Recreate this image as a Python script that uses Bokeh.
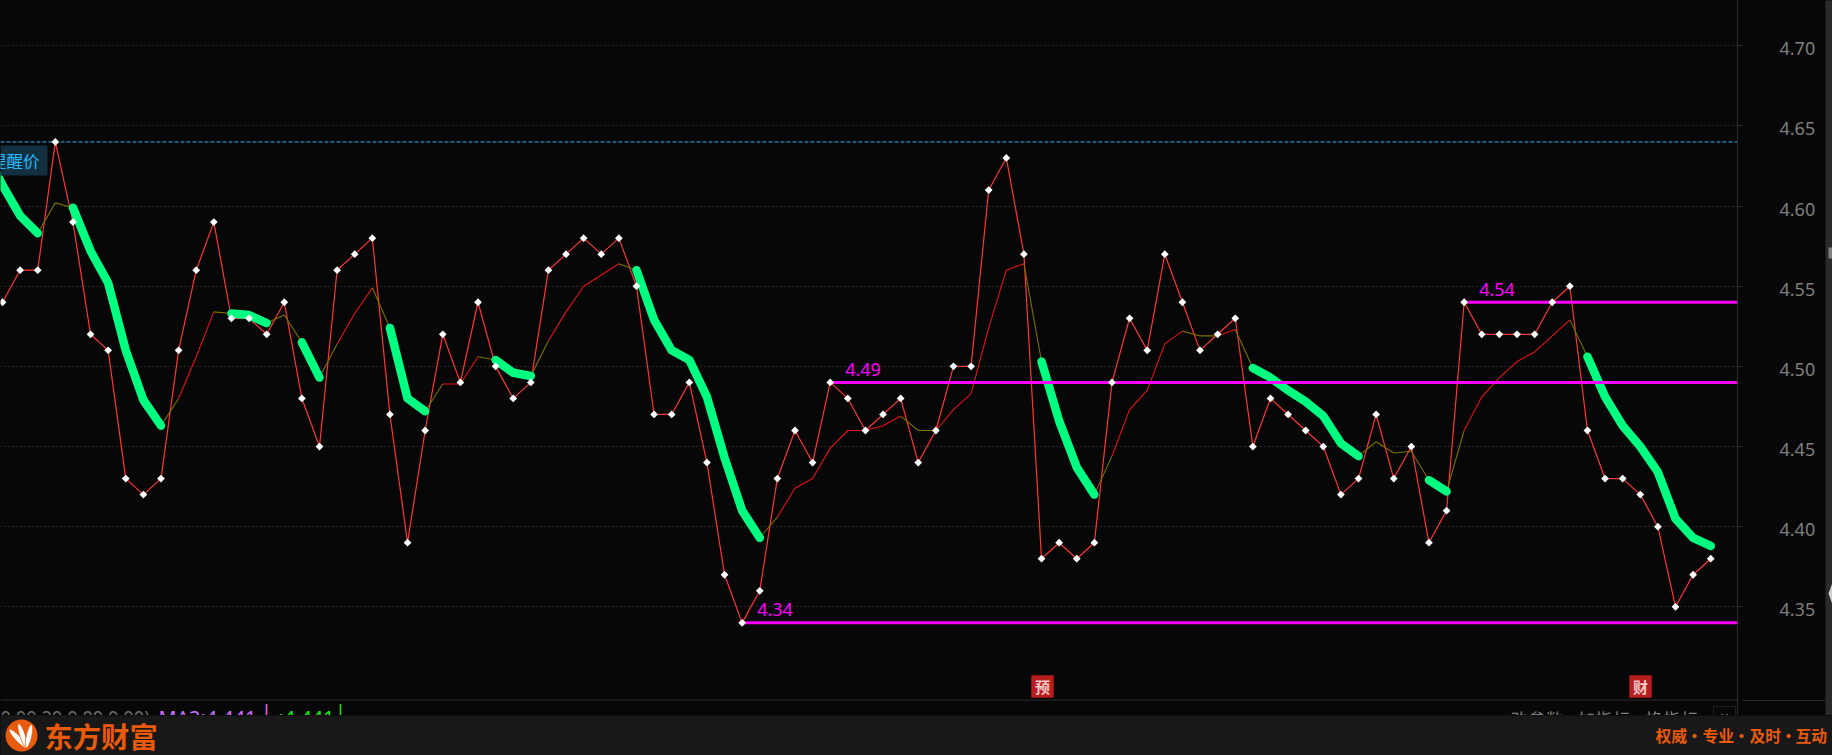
from bokeh.plotting import figure
from bokeh.layouts import column, row
from bokeh.embed import file_html
from bokeh.resources import INLINE
from bokeh.core.properties import value
from bokeh.models import FixedTicker, Label, BoxAnnotation, Span, NumeralTickFormatter, Range1d, LinearAxis
import math

close = [4.54,4.56,4.56,4.64,4.59,4.52,4.51,4.43,4.42,4.43,4.51,4.56,4.59,4.53,4.53,4.52,4.54,4.48,4.45,4.56,
         4.57,4.58,4.47,4.39,4.46,4.52,4.49,4.54,4.50,4.48,4.49,4.56,4.57,4.58,4.57,4.58,4.55,4.47,4.47,4.49,
         4.44,4.37,4.34,4.36,4.43,4.46,4.44,4.49,4.48,4.46,4.47,4.48,4.44,4.46,4.50,4.50,4.61,4.63,4.57,4.38,
         4.39,4.38,4.39,4.49,4.53,4.51,4.57,4.54,4.51,4.52,4.53,4.45,4.48,4.47,4.46,4.45,4.42,4.43,4.47,4.43,
         4.45,4.39,4.41,4.54,4.52,4.52,4.52,4.52,4.54,4.55,4.46,4.43,4.43,4.42,4.40,4.35,4.37,4.38]

# moving average; first entry belongs to the bar just left of the visible window
ma_x = list(range(-1, 98))
ma = [4.635,4.613,4.594,4.583,4.602,4.599,4.572,4.552,4.510,4.479,4.463,4.480,4.506,4.534,4.533,4.532,4.527,4.532,4.515,4.493,
      4.514,4.533,4.549,4.524,4.480,4.472,4.489,4.489,4.506,4.504,4.496,4.494,4.516,4.534,4.550,4.557,4.564,4.560,4.529,4.510,
      4.504,4.481,4.443,4.410,4.393,4.406,4.424,4.430,4.449,4.460,4.460,4.463,4.469,4.460,4.460,4.473,4.483,4.524,4.560,4.564,
      4.503,4.466,4.437,4.420,4.444,4.473,4.485,4.514,4.522,4.519,4.519,4.523,4.499,4.493,4.485,4.478,4.469,4.452,4.444,4.453,
      4.446,4.447,4.429,4.422,4.460,4.481,4.493,4.503,4.509,4.519,4.529,4.506,4.481,4.463,4.450,4.434,4.405,4.393,4.388]

# runs of bars (first, last) per line state
fall_runs = [(-1,2),(4,9),(13,15),(17,18),(22,24),(28,30),(36,43),(59,62),(71,77),(81,82),(90,97)]
flat_runs = [(2,4),(9,10),(12,13),(15,17),(18,19),(21,22),(24,25),(27,28),(30,31),(35,36),(43,44),
             (51,53),(58,59),(62,63),(67,69),(70,71),(77,81),(82,83),(89,90)]
rise_runs = [(10,12),(19,21),(25,27),(31,35),(44,51),(53,58),(63,67),(69,70),(83,89)]

levels = [4.34, 4.49, 4.54]
level_start = [42, 47, 83]
level_text = ["4.34", "4.49", "4.54"]
alert_price = 4.64
y_ticks = [4.35,4.40,4.45,4.50,4.55,4.60,4.65,4.70]
separator = 4.29183

BG = "#070707"
X0, X1 = -0.1136, 98.52
Y0, Y1 = 4.2822, 4.72824   # frame covers y = 0..715 px
LABEL_SHIFT = 3 / 1604      # tick labels sit 3 px under their ticks

p = figure(width=1825, height=715, output_backend="svg", toolbar_location=None,
           x_range=Range1d(X0, X1), y_range=Range1d(Y0, Y1),
           x_axis_location=None, y_axis_location="right",
           background_fill_color=BG, border_fill_color=BG, outline_line_color=None,
           min_border_left=0, min_border_top=0, min_border_bottom=0, min_border_right=88)

ax = p.yaxis[0]
ax.ticker = FixedTicker(ticks=[], minor_ticks=y_ticks)
ax.axis_line_color = "#2e2e2e"
ax.major_tick_line_color = None
ax.major_tick_out = 5
ax.major_tick_in = 0
ax.minor_tick_line_color = "#2e2e2e"
ax.minor_tick_out = 5
ax.minor_tick_in = 0

sep_ax = LinearAxis(ticker=FixedTicker(ticks=[], minor_ticks=[separator]),
                    axis_line_color=None, major_tick_line_color=None,
                    major_tick_out=0, major_tick_in=0,
                    minor_tick_line_color="#2c2c2c", minor_tick_out=83, minor_tick_in=0)
p.add_layout(sep_ax, "right")

p.extra_y_ranges = {"labels": Range1d(Y0 + LABEL_SHIFT, Y1 + LABEL_SHIFT)}
lab_ax = LinearAxis(y_range_name="labels", ticker=FixedTicker(ticks=y_ticks),
                    formatter=NumeralTickFormatter(format="0.00"),
                    axis_line_color=None, major_tick_line_color=None, minor_tick_line_color=None,
                    major_tick_out=0, major_tick_in=0,
                    major_label_standoff=-46, major_label_text_color="#7f7f7f",
                    major_label_text_font="Noto Sans", major_label_text_font_size="18px")
p.add_layout(lab_ax, "right")

p.xgrid.visible = False
g = p.ygrid[0]
g.ticker = FixedTicker(ticks=y_ticks)
g.grid_line_color = "#454545"
g.grid_line_dash = "1 3"
g.grid_line_width = 1

xs = list(range(len(close)))
p.line(xs, close, line_color="#ff3535", line_width=1.2)

for a, b in rise_runs:
    p.line(ma_x[a+1:b+2], ma[a+1:b+2], line_color="#e81010", line_width=1.1)
for a, b in flat_runs:
    p.line(ma_x[a+1:b+2], ma[a+1:b+2], line_color="#7c7000", line_width=1.1)
for a, b in fall_runs:
    p.line(ma_x[a+1:b+2], ma[a+1:b+2], line_color="#00ff80", line_width=8.5,
           line_cap="round", line_join="round")

p.line([X0, X1], [alert_price, alert_price], line_color="#35b8ee", line_width=1, line_dash="4 2")

p.segment(x0=level_start, y0=levels, x1=[X1]*3, y1=levels, line_color="#ff00ff", line_width=3)
p.text(x=level_start, y=levels, text=level_text, text_color="#ff00ff",
       text_font=value("Noto Sans"), text_font_size="18px", text_align="left",
       text_baseline="alphabetic", x_offset=15, y_offset=-13)

p.scatter(xs, close, marker="square", angle=math.pi/4, size=5.5, fill_color="white", line_color=None)

# separator above the indicator strip
p.add_layout(Span(location=separator, dimension="width", line_color="#2c2c2c", line_width=1))


def lab(x, y, text, color, size, align="left", **kw):
    p.add_layout(Label(x=x, y=y, x_units="canvas", y_units="canvas", text=text, text_color=color,
                       text_font=kw.pop("font", "Noto Sans"), text_font_size=f"{size}px",
                       text_align=align, text_baseline=kw.pop("baseline", "middle"), **kw))


def box(l, r, t, b, fill, line=None):
    p.add_layout(BoxAnnotation(left=l, right=r, top=t, bottom=b,
                               left_units="canvas", right_units="canvas", top_units="canvas", bottom_units="canvas",
                               fill_color=fill, fill_alpha=1, line_color=line))


CJK = "Noto Sans CJK SC"
box(0, 47, 145, 175, "#12303f")
lab(39, 160, "提醒价", "#2ab8f8", 16.5, align="right", font=CJK)

for cx, t in [(1042, "预"), (1640, "财")]:
    box(cx-11, cx+11, 675, 697, "#b81e1e", "#e01515")
    lab(cx, 686, t, "#f0c8c8", 15, align="center", font=CJK, text_font_style="bold")

# strip cut off by footer
base = 717
lab(0, base - 1, "0.00,20,0.00,0.00)", "#6e6e6e", 18.2)
lab(158, base, "MA3:4.441", "#d070ff", 19.8)
lab(261, 710, "|", "#ff66ff", 18)
lab(278, base, ":4.441", "#10f010", 19.8)
lab(335, 710, "|", "#10f010", 18)
lab(1510, base + 1, "改参数", "#808080", 17.6, font=CJK)
lab(1577, base + 1, "加指标", "#808080", 17.6, font=CJK)
lab(1645, base + 1, "换指标", "#808080", 17.6, font=CJK)
box(1713, 1735, 706, 730, BG, "#5a5a5a")
lab(1724, 716, "∨", "#808080", 14, align="center", font="DejaVu Sans")

# scrollbar column
sb = figure(width=7, height=715, output_backend="svg", toolbar_location=None,
            x_range=Range1d(0, 7), y_range=Range1d(715, 0),
            x_axis_location=None, y_axis_location=None,
            background_fill_color="#2a2a2a", border_fill_color="#2a2a2a", outline_line_color=None, min_border=0)
sb.xgrid.visible = False
sb.ygrid.visible = False
sb.quad(left=[3], right=[7], top=[247], bottom=[258], fill_color="#808080", line_color=None)
sb.patch([7, 3, 7], [582, 593, 604], fill_color="#d0d0d0", line_color=None)

# footer
petal_x = [17.5, 22, 28.5]
petal_y = [23, 20, 20.5]
petal_len = [25, 25, 23.5]
petal_angle = [2.33, 1.89, 1.36]

f = figure(width=1832, height=40, output_backend="svg", toolbar_location=None,
           x_range=Range1d(0, 1832), y_range=Range1d(40, 0),
           x_axis_location=None, y_axis_location=None,
           background_fill_color="#181818", border_fill_color="#181818", outline_line_color=None,
           min_border=0)
f.xgrid.visible = False
f.ygrid.visible = False
f.circle(x=[21], y=[20], radius=16, fill_color="#e85a0c", line_color=None)
f.ellipse(x=petal_x, y=petal_y, width=petal_len, height=5.5, angle=petal_angle, fill_color="white", line_color="#e85a0c", line_width=0.7)
f.text(x=[44], y=[20], text=["东方财富"], text_color="#e85a0c", text_font=value(CJK), text_font_style="bold",
       text_font_size="28.3px", text_baseline="middle")
f.text(x=[1655, 1702, 1749, 1795], y=[20]*4, text=["权威", "专业", "及时", "互动"], text_color="#e85a0c",
       text_font=value(CJK), text_font_style="bold", text_font_size="15.8px", text_baseline="middle")
f.text(x=[1694, 1741, 1788], y=[20]*3, text=["·", "·", "·"], text_color="#e85a0c",
       text_font=value(CJK), text_font_style="bold", text_font_size="15.8px", text_baseline="middle", text_align="center")

page = column(row(p, sb, spacing=0), f, spacing=0,
              styles={"position": "fixed", "left": "0px", "top": "0px", "background-color": BG})
open("out.html", "w").write(file_html(page, INLINE))
